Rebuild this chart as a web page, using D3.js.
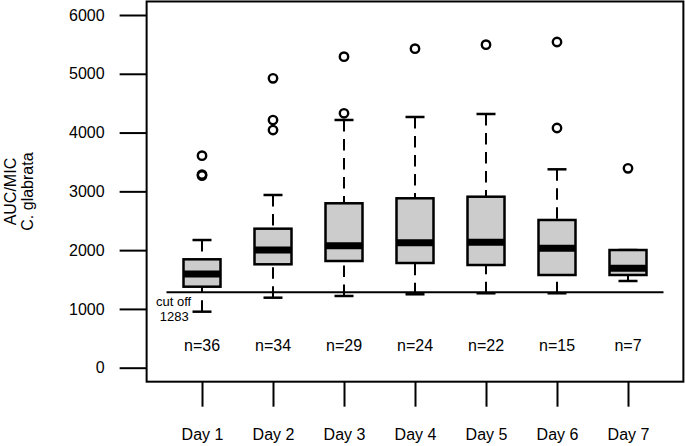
<!DOCTYPE html>
<html>
<head>
<meta charset="utf-8">
<script src="https://cdn.jsdelivr.net/npm/d3@7"></script>
<style>
  body { margin: 0; background: #fff; }
  text { font-family: 'Liberation Sans', Arial, sans-serif; fill: #000; }
</style>
</head>
<body>
<div id="chart"></div>
<script>
let days = ['Day 1', 'Day 2', 'Day 3', 'Day 4', 'Day 5', 'Day 6', 'Day 7']
let nCounts = [36, 34, 29, 24, 22, 15, 7]
let lowerWhisker = [953, 1191, 1220, 1249, 1266, 1266, 1475]
let q1 = [1378, 1759, 1815, 1781, 1747, 1577, 1577]
let medians = [1594, 2002, 2076, 2127, 2133, 2031, 1691]
let q3 = [1844, 2365, 2797, 2882, 2909, 2513, 2002]
let upperWhisker = [2172, 2938, 4214, 4265, 4316, 3375, 2002]
let outliers = [
  [3607, 3285, 3268],
  [4923, 4213, 4043],
  [5291, 4328],
  [5427],
  [5495],
  [5541, 4078],
  [3392]
]
let yTicks = [0, 1000, 2000, 3000, 4000, 5000, 6000]
let cutoff = 1283

let width = 685
let height = 446

let svg = d3
  .select('#chart')
  .append('svg')
  .attr('width', width)
  .attr('height', height)

// positions 1..7, R-style limits 0.5..7.5 plus 4% padding
let xScale = d3.scaleLinear().domain([0.5, 7.5]).range([166.5, 663.5])
let yScale = d3.scaleLinear().domain([0, 6000]).range([367.7, 15])

let frameX0 = xScale(0.22)
let frameX1 = xScale(7.78)
let frameY0 = yScale(6230)
let frameY1 = yScale(-238)

let boxHalf = 18.5
let capHalf = 9.5

// y axis ticks (outside the frame, no axis line)
let yAxis = d3
  .axisLeft(yScale)
  .tickValues(yTicks)
  .tickSize(27)
  .tickPadding(15)
  .tickFormat(d3.format('d'))

svg
  .append('g')
  .attr('transform', `translate(${frameX0}, 0)`)
  .call(yAxis)
  .call(g => g.select('.domain').remove())
  .call(g => g.selectAll('line').attr('stroke', '#000').attr('stroke-width', 2))
  .call(g => g.selectAll('text').attr('font-size', 16).style('font-family', "'Liberation Sans', Arial, sans-serif"))

// x axis ticks
let xAxis = d3
  .axisBottom(xScale)
  .tickValues(d3.range(1, 8))
  .tickSize(25)
  .tickPadding(22)
  .tickFormat(d => days[d - 1])

svg
  .append('g')
  .attr('transform', `translate(0, ${frameY1})`)
  .call(xAxis)
  .call(g => g.select('.domain').remove())
  .call(g => g.selectAll('line').attr('stroke', '#000').attr('stroke-width', 2))
  .call(g => g.selectAll('text').attr('font-size', 16).style('font-family', "'Liberation Sans', Arial, sans-serif"))

// y axis title (two lines)
let title = svg
  .append('text')
  .attr('transform', `translate(16, ${(frameY0 + frameY1) / 2}) rotate(-90)`)
  .attr('text-anchor', 'middle')
  .attr('font-size', 16)
title.append('tspan').attr('x', 0).attr('dy', 0).text('AUC/MIC')
title.append('tspan').attr('x', 0).attr('dy', 17).text('C. glabrata')

let boxes = svg
  .selectAll('.box')
  .data(days)
  .enter()
  .append('g')
  .attr('class', 'box')
  .attr('transform', (d, i) => `translate(${xScale(i + 1)}, 0)`)

// whiskers, dashed, drawn from the whisker end toward the box
boxes
  .append('line')
  .attr('y1', (d, i) => yScale(lowerWhisker[i]))
  .attr('y2', (d, i) => yScale(q1[i]))
  .attr('stroke', '#000')
  .attr('stroke-width', 2)
  .attr('stroke-dasharray', '11.5,7.5')

boxes
  .append('line')
  .attr('y1', (d, i) => yScale(upperWhisker[i]))
  .attr('y2', (d, i) => yScale(q3[i]))
  .attr('stroke', '#000')
  .attr('stroke-width', 2)
  .attr('stroke-dasharray', '11.5,7.5')

// whisker caps
boxes
  .append('line')
  .attr('x1', -capHalf)
  .attr('x2', capHalf)
  .attr('y1', (d, i) => yScale(lowerWhisker[i]))
  .attr('y2', (d, i) => yScale(lowerWhisker[i]))
  .attr('stroke', '#000')
  .attr('stroke-width', 2.5)

boxes
  .append('line')
  .attr('x1', -capHalf)
  .attr('x2', capHalf)
  .attr('y1', (d, i) => yScale(upperWhisker[i]))
  .attr('y2', (d, i) => yScale(upperWhisker[i]))
  .attr('stroke', '#000')
  .attr('stroke-width', 2.5)

// box
boxes
  .append('rect')
  .attr('x', -boxHalf)
  .attr('width', boxHalf * 2)
  .attr('y', (d, i) => yScale(q3[i]))
  .attr('height', (d, i) => yScale(q1[i]) - yScale(q3[i]))
  .attr('fill', '#cccccc')
  .attr('stroke', '#000')
  .attr('stroke-width', 2.5)

// median
boxes
  .append('line')
  .attr('x1', -boxHalf)
  .attr('x2', boxHalf)
  .attr('y1', (d, i) => yScale(medians[i]))
  .attr('y2', (d, i) => yScale(medians[i]))
  .attr('stroke', '#000')
  .attr('stroke-width', 7)

// outliers
boxes
  .selectAll('.outlier')
  .data((d, i) => outliers[i])
  .enter()
  .append('circle')
  .attr('class', 'outlier')
  .attr('cy', d => yScale(d))
  .attr('r', 4.2)
  .attr('fill', 'none')
  .attr('stroke', '#000')
  .attr('stroke-width', 2.4)

// n labels
boxes
  .append('text')
  .attr('y', 350.5)
  .attr('text-anchor', 'middle')
  .attr('font-size', 16)
  .text((d, i) => `n=${nCounts[i]}`)

// cut off line
svg
  .append('line')
  .attr('x1', xScale(0.5))
  .attr('x2', xScale(7.5))
  .attr('y1', yScale(cutoff))
  .attr('y2', yScale(cutoff))
  .attr('stroke', '#000')
  .attr('stroke-width', 2)

svg
  .append('text')
  .attr('x', xScale(0.6))
  .attr('y', 306)
  .attr('text-anchor', 'middle')
  .attr('font-size', 13)
  .text('cut off')

svg
  .append('text')
  .attr('x', xScale(0.61))
  .attr('y', 321)
  .attr('text-anchor', 'middle')
  .attr('font-size', 13)
  .text(cutoff)

// plot frame
svg
  .append('rect')
  .attr('x', frameX0)
  .attr('y', frameY0)
  .attr('width', frameX1 - frameX0)
  .attr('height', frameY1 - frameY0)
  .attr('fill', 'none')
  .attr('stroke', '#000')
  .attr('stroke-width', 2)
</script>
</body>
</html>
